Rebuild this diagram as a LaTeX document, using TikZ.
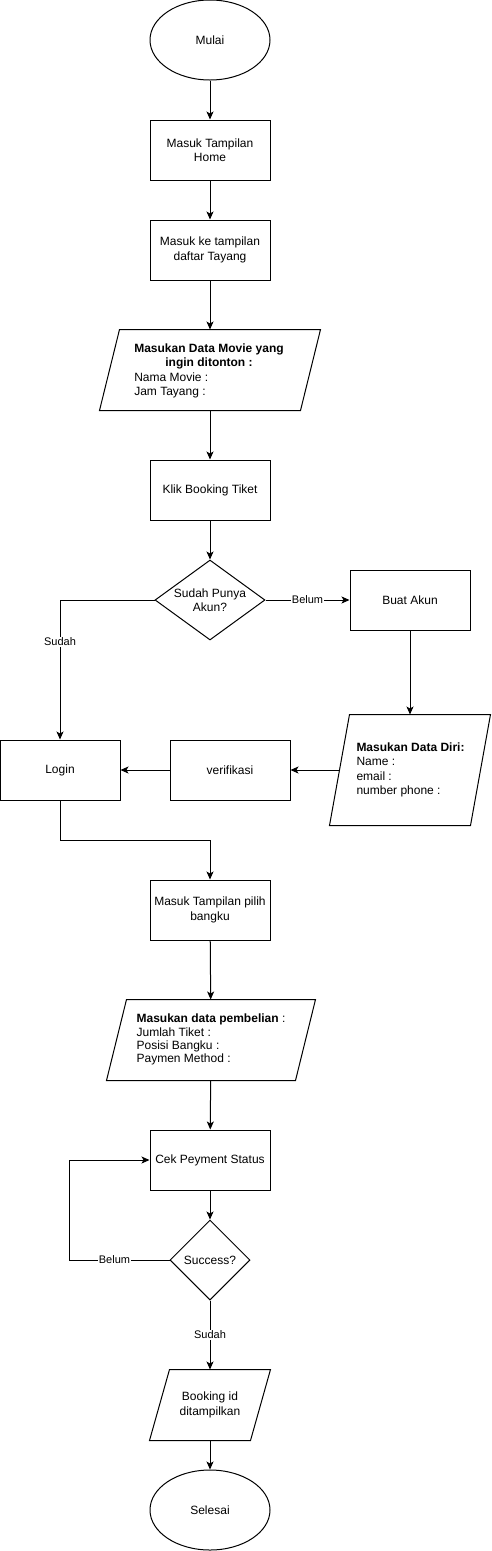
\documentclass[tikz,border=0pt]{standalone}
\usepackage{fontspec}
\setmainfont{Liberation Sans}
\usetikzlibrary{arrows.meta,shapes.geometric}
\begin{document}
\begin{tikzpicture}[x=1pt,y=-1pt,line width=1pt,
  every node/.style={font=\fontsize{12}{14.4}\selectfont},
  box/.style={draw, minimum width=120pt, minimum height=60pt, align=center, inner sep=0pt},
  term/.style={ellipse, draw, minimum width=120pt, minimum height=80pt, inner sep=0pt},
  dia/.style={diamond, draw, align=center, inner sep=0pt},
  pbox/.style={inner sep=0pt},
  flow/.style={-{Stealth[length=8pt,width=7pt,inset=2pt]}},
  lbl/.style={fill=white, inner sep=1pt, font=\fontsize{11}{13}\selectfont}]
\useasboundingbox (0,0) rectangle (491,1551);

\node[term] (mulai) at (210,40) {Mulai};
\node[box] (home) at (210,150) {Masuk Tampilan\\Home};
\node[box] (daftar) at (210,250) {Masuk ke tampilan\\daftar Tayang};
\node[pbox, minimum width=220pt, minimum height=80pt] (movie) at (210,370) {};
\draw ([xshift=20pt]movie.north west) -- (movie.north east) -- ([xshift=-20pt]movie.south east) -- (movie.south west) -- cycle;
\node[inner sep=0pt, anchor=center] (movietxt) at (209,371) {\begin{tabular}{@{}l@{}}\multicolumn{1}{@{}c@{}}{\bfseries Masukan Data Movie yang}\\\multicolumn{1}{@{}c@{}}{\bfseries ingin ditonton :}\\Nama Movie :\\Jam Tayang :\end{tabular}};
\node[box] (klik) at (210,490) {Klik Booking Tiket};
\node[dia, minimum width=110pt, minimum height=80pt, shape aspect=1.375] (akun) at (210,600) {Sudah Punya\\Akun?};
\node[box] (buat) at (410,600) {Buat Akun};
\node[pbox, minimum width=160pt, minimum height=110pt] (diri) at (410,770) {};
\draw ([xshift=20pt]diri.north west) -- (diri.north east) -- ([xshift=-20pt]diri.south east) -- (diri.south west) -- cycle;
\coordinate (dirileft) at ([xshift=10pt]diri.west);
\node[align=left, inner sep=0pt, anchor=west] (diritxt) at (356,770) {\textbf{Masukan Data Diri:}\\Name :\\email :\\number phone :};
\node[box] (verif) at (230,770) {verifikasi};
\node[box] (login) at (60,770) {Login};
\node[box] (bangku) at (210,910) {Masuk Tampilan pilih\\bangku};
\node[pbox, minimum width=208pt, minimum height=80pt] (beli) at (211,1040) {\begin{tabular}{@{}l@{}}\textbf{Masukan data pembelian} :\\[-1pt]Jumlah Tiket :\\[-1pt]Posisi Bangku :\\[-1pt]Paymen Method :\end{tabular}};
\draw ([xshift=20pt]beli.north west) -- (beli.north east) -- ([xshift=-20pt]beli.south east) -- (beli.south west) -- cycle;
\node[box] (cek) at (210,1160) {Cek Peyment Status};
\node[dia, minimum width=80pt, minimum height=80pt] (succ) at (210,1260) {Success?};
\node[pbox, minimum width=120pt, minimum height=70pt, align=center] (bookid) at (210,1405) {Booking id\\ditampilkan};
\draw ([xshift=20pt]bookid.north west) -- (bookid.north east) -- ([xshift=-20pt]bookid.south east) -- (bookid.south west) -- cycle;
\node[term] (selesai) at (210,1510) {Selesai};

\draw[flow] (mulai) -- (home);
\draw[flow] (home) -- (daftar);
\draw[flow] (daftar) -- (movie);
\draw[flow] (movie) -- (klik);
\draw[flow] (klik) -- (akun);
\draw[flow] (akun.west) -| node[lbl, pos=0.65] {Sudah} (login.north);
\draw[flow] (akun.east) -- node[lbl, pos=0.5] {Belum} (buat.west);
\draw[flow] (buat) -- (diri.north);
\draw[flow] (dirileft) -- (verif.east);
\draw[flow] (verif) -- (login);
\draw[flow] (login.south) -- ++(0,40) -| (bangku.north);
\draw[flow] (bangku) -- (beli);
\draw[flow] (beli) -- (cek);
\draw[flow] (cek) -- (succ);
\draw[flow] (succ.west) -- node[lbl, pos=0.55] {Belum} ++(-100,0) |- (cek.west);
\draw[flow] (succ.south) -- node[lbl, pos=0.5] {Sudah} (bookid.north);
\draw[flow] (bookid) -- (selesai);
\end{tikzpicture}
\end{document}
